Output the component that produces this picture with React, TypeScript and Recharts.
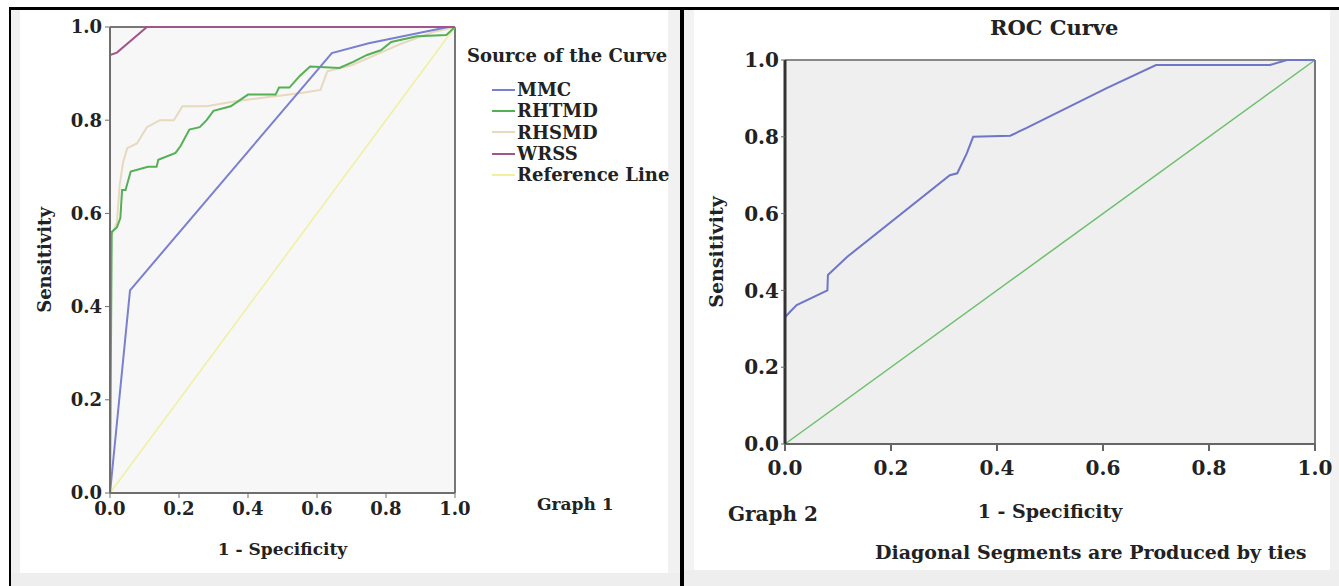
import { LineChart, Line, XAxis, YAxis, CartesianGrid, ReferenceLine, Label } from 'recharts';

// ── Data ────────────────────────────────────────────────────────────────────
type Pt = { x: number; y: number };

const TICKS = [0, 0.2, 0.4, 0.6, 0.8, 1.0];

// Graph 1
const mmc: Pt[] = [
  { x: 0, y: 0 }, { x: 0.058, y: 0.435 }, { x: 0.643, y: 0.944 },
  { x: 0.75, y: 0.965 }, { x: 0.98, y: 1.0 }, { x: 1, y: 1 },
];
const rhtmd: Pt[] = [
  { x: 0, y: 0 }, { x: 0.005, y: 0.56 }, { x: 0.02, y: 0.57 }, { x: 0.03, y: 0.59 },
  { x: 0.035, y: 0.65 }, { x: 0.045, y: 0.65 }, { x: 0.06, y: 0.69 }, { x: 0.11, y: 0.7 },
  { x: 0.135, y: 0.7 }, { x: 0.14, y: 0.715 }, { x: 0.19, y: 0.73 }, { x: 0.205, y: 0.745 },
  { x: 0.23, y: 0.78 }, { x: 0.26, y: 0.785 }, { x: 0.28, y: 0.8 }, { x: 0.3, y: 0.82 },
  { x: 0.35, y: 0.83 }, { x: 0.4, y: 0.855 }, { x: 0.48, y: 0.855 }, { x: 0.49, y: 0.87 },
  { x: 0.52, y: 0.87 }, { x: 0.55, y: 0.895 }, { x: 0.58, y: 0.915 }, { x: 0.665, y: 0.912 },
  { x: 0.705, y: 0.925 }, { x: 0.745, y: 0.94 }, { x: 0.785, y: 0.95 }, { x: 0.815, y: 0.968 },
  { x: 0.89, y: 0.98 }, { x: 0.975, y: 0.983 }, { x: 1, y: 1 },
];
const rhsmd: Pt[] = [
  { x: 0, y: 0 }, { x: 0.003, y: 0.55 }, { x: 0.02, y: 0.58 }, { x: 0.028, y: 0.66 },
  { x: 0.038, y: 0.71 }, { x: 0.05, y: 0.74 }, { x: 0.078, y: 0.75 }, { x: 0.107, y: 0.785 },
  { x: 0.145, y: 0.8 }, { x: 0.185, y: 0.8 }, { x: 0.21, y: 0.83 }, { x: 0.28, y: 0.83 },
  { x: 0.36, y: 0.84 }, { x: 0.46, y: 0.85 }, { x: 0.55, y: 0.858 }, { x: 0.61, y: 0.865 },
  { x: 0.625, y: 0.895 }, { x: 0.63, y: 0.905 }, { x: 0.7, y: 0.918 }, { x: 0.8, y: 0.95 },
  { x: 0.84, y: 0.963 }, { x: 0.94, y: 0.99 }, { x: 1, y: 1 },
];
const wrss: Pt[] = [
  { x: 0, y: 0 }, { x: 0, y: 0.94 }, { x: 0.02, y: 0.945 }, { x: 0.107, y: 1.0 }, { x: 1, y: 1 },
];
const reference: Pt[] = [{ x: 0, y: 0 }, { x: 1, y: 1 }];

// Graph 2
const roc2: Pt[] = [
  { x: 0, y: 0 }, { x: 0, y: 0.33 }, { x: 0.01, y: 0.345 }, { x: 0.022, y: 0.362 },
  { x: 0.08, y: 0.4 }, { x: 0.081, y: 0.44 }, { x: 0.117, y: 0.487 }, { x: 0.311, y: 0.7 },
  { x: 0.325, y: 0.705 }, { x: 0.343, y: 0.757 }, { x: 0.355, y: 0.8 }, { x: 0.425, y: 0.803 },
  { x: 0.456, y: 0.823 }, { x: 0.607, y: 0.927 }, { x: 0.7, y: 0.987 }, { x: 0.915, y: 0.987 },
  { x: 0.947, y: 1.0 }, { x: 1, y: 1 },
];
const diagonal2: Pt[] = [{ x: 0, y: 0 }, { x: 1, y: 1 }];

const SERIES1 = [
  { name: 'MMC', color: '#7a7fcf', data: mmc },
  { name: 'RHTMD', color: '#55b055', data: rhtmd },
  { name: 'RHSMD', color: '#e6d9bd', data: rhsmd },
  { name: 'WRSS', color: '#a2548c', data: wrss },
  { name: 'Reference Line', color: '#f0f0a0', data: reference },
];
// drawing order: reference at bottom, WRSS on top
const DRAW_ORDER = ['Reference Line', 'RHSMD', 'RHTMD', 'MMC', 'WRSS'];

const FONT = '"DejaVu Serif", "Liberation Serif", serif';
const fmt = (v: number) => v.toFixed(1);

export default function App() {
  const tick1 = { fontSize: 18, fontWeight: 700, fontFamily: FONT, fill: '#222' };
  const tick2 = { fontSize: 20, fontWeight: 700, fontFamily: FONT, fill: '#222' };
  const text = (size: number): React.CSSProperties => ({
    position: 'absolute', fontFamily: FONT, fontWeight: 700, fontSize: size, color: '#222', whiteSpace: 'nowrap',
  });

  return (
    <div style={{ position: 'absolute', left: 0, top: 0, width: 1339, height: 586, overflow: 'hidden', background: '#fff' }}>
      {/* frame & panel strips */}
      <div style={{ position: 'absolute', left: 11, top: 10, width: 9, height: 576, background: '#f1f1f1' }} />
      <div style={{ position: 'absolute', left: 668, top: 10, width: 12, height: 576, background: '#f1f1f1' }} />
      <div style={{ position: 'absolute', left: 11, top: 573, width: 669, height: 13, background: '#eeeeee' }} />
      <div style={{ position: 'absolute', left: 684, top: 10, width: 10, height: 576, background: '#f3f3f3' }} />
      <div style={{ position: 'absolute', left: 1330, top: 10, width: 9, height: 576, background: '#f1f1f1' }} />
      <div style={{ position: 'absolute', left: 684, top: 570, width: 655, height: 16, background: '#eeeeee' }} />
      <div style={{ position: 'absolute', left: 9, top: 7, width: 1330, height: 3, background: '#000' }} />
      <div style={{ position: 'absolute', left: 9, top: 7, width: 2, height: 579, background: '#000' }} />
      <div style={{ position: 'absolute', left: 680, top: 7, width: 4, height: 579, background: '#000' }} />

      {/* ── Graph 1 ── */}
      <div style={{ position: 'absolute', left: 0, top: 0 }}>
        <LineChart width={680} height={586} margin={{ top: 27, right: 225, bottom: 23, left: 0 }}>
          <CartesianGrid fill="#f7f7f7" stroke="none" horizontal={false} vertical={false} />
          <XAxis
            type="number" dataKey="x" domain={[0, 1]} ticks={TICKS} tickFormatter={fmt}
            height={70} tick={tick1} tickSize={5} tickMargin={4}
            axisLine={{ stroke: '#6e6e6e', strokeWidth: 2 }} tickLine={{ stroke: '#6e6e6e' }}
          >
            <Label value="1 - Specificity" position="insideBottom" offset={8}
              style={{ fontSize: 17, fontWeight: 700, fontFamily: FONT, fill: '#222' }} />
          </XAxis>
          <YAxis
            type="number" dataKey="y" domain={[0, 1]} ticks={TICKS} tickFormatter={fmt}
            width={110} tick={tick1} tickSize={5} tickMargin={3}
            axisLine={{ stroke: '#6e6e6e', strokeWidth: 2 }} tickLine={{ stroke: '#6e6e6e' }}
          >
            <Label value="Sensitivity" angle={-90} position="insideLeft" offset={45}
              style={{ fontSize: 18, fontWeight: 700, fontFamily: FONT, fill: '#222', textAnchor: 'middle' }} />
          </YAxis>
          <ReferenceLine y={1} stroke="#777" strokeWidth={2} />
          <ReferenceLine x={1} stroke="#777" strokeWidth={2} />
          {DRAW_ORDER.map(n => {
            const s = SERIES1.find(q => q.name === n)!;
            return (
              <Line key={n} data={s.data} dataKey="y" name={n} type="linear" stroke={s.color}
                strokeWidth={n === 'Reference Line' ? 1.5 : 2} dot={false} isAnimationActive={false} />
            );
          })}
        </LineChart>
      </div>

      {/* legend */}
      <div style={{ ...text(18), left: 467, top: 45 }}>Source of the Curve</div>
      <div style={{ position: 'absolute', left: 492, top: 79 }}>
        {SERIES1.map(s => (
          <div key={s.name} style={{ display: 'flex', alignItems: 'center', height: 21.3 }}>
            <span style={{ display: 'inline-block', width: 23, height: 2, background: s.color }} />
            <span style={{ fontFamily: FONT, fontWeight: 700, fontSize: 18, color: '#222', marginLeft: 2 }}>{s.name}</span>
          </div>
        ))}
      </div>
      <div style={{ ...text(17), left: 537, top: 494 }}>Graph 1</div>

      {/* ── Graph 2 ── */}
      <div style={{ ...text(21), left: 990, top: 15 }}>ROC Curve</div>
      <div style={{ position: 'absolute', left: 686, top: 0 }}>
        <LineChart width={653} height={586} margin={{ top: 60, right: 24, bottom: 62, left: 0 }}>
          <CartesianGrid fill="#efefef" stroke="none" horizontal={false} vertical={false} />
          <XAxis
            type="number" dataKey="x" domain={[0, 1]} ticks={TICKS} tickFormatter={fmt}
            height={80} tick={tick2} tickSize={7} tickMargin={10}
            axisLine={{ stroke: '#666', strokeWidth: 2 }} tickLine={{ stroke: '#666', strokeWidth: 2 }}
          >
            <Label value="1 - Specificity" position="insideBottom" offset={6}
              style={{ fontSize: 19, fontWeight: 700, fontFamily: FONT, fill: '#222' }} />
          </XAxis>
          <YAxis
            type="number" dataKey="y" domain={[0, 1]} ticks={TICKS} tickFormatter={fmt}
            width={99} tick={tick2} tickSize={4} tickMargin={2}
            axisLine={{ stroke: '#333', strokeWidth: 3 }} tickLine={{ stroke: '#666' }}
          >
            <Label value="Sensitivity" angle={-90} position="insideLeft" offset={30}
              style={{ fontSize: 19, fontWeight: 700, fontFamily: FONT, fill: '#222', textAnchor: 'middle' }} />
          </YAxis>
          <ReferenceLine y={1} stroke="#888" strokeWidth={2} />
          <ReferenceLine x={1} stroke="#777" strokeWidth={2} />
          <Line data={diagonal2} dataKey="y" name="Reference" type="linear" stroke="#6cbf6c"
            strokeWidth={1.5} dot={false} isAnimationActive={false} />
          <Line data={roc2} dataKey="y" name="ROC" type="linear" stroke="#6f75c9"
            strokeWidth={2} dot={false} isAnimationActive={false} />
        </LineChart>
      </div>
      <div style={{ ...text(20), left: 728, top: 502 }}>Graph 2</div>
      <div style={{ ...text(19), left: 875, top: 541 }}>Diagonal Segments are Produced by ties</div>
    </div>
  );
}
